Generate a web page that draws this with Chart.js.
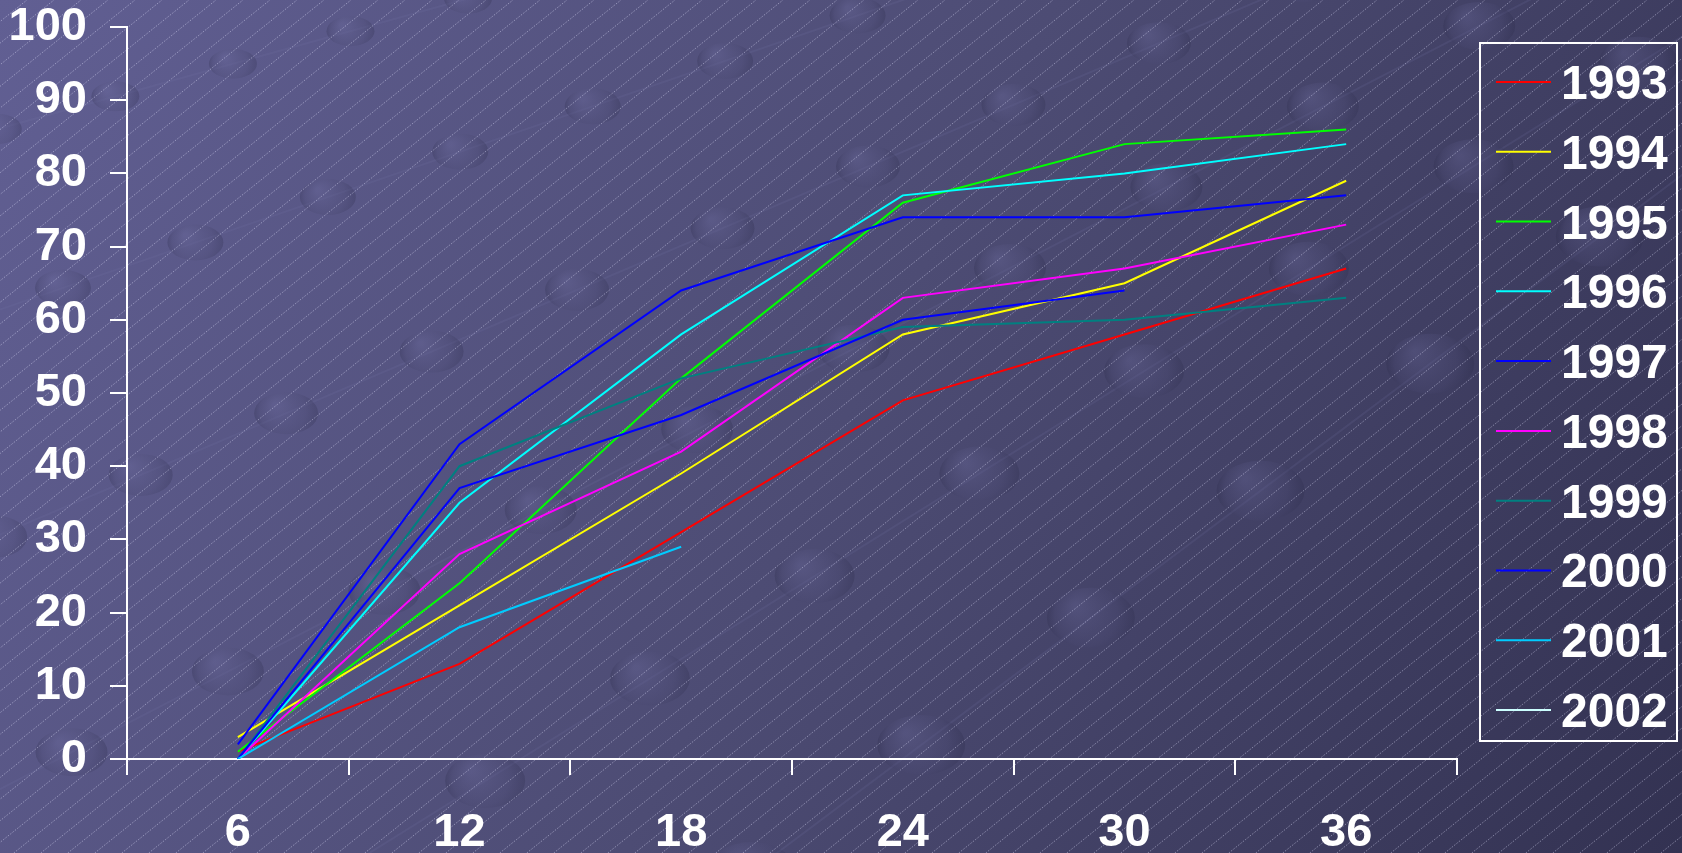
<!DOCTYPE html>
<html>
<head>
<meta charset="utf-8">
<script src="https://cdn.jsdelivr.net/npm/chart.js@4/dist/chart.umd.min.js"></script>
<style>
  html, body { margin: 0; padding: 0; overflow: hidden; background: #4b4a72; }
  #wrap { width: 1682px; height: 853px; position: relative; }
  canvas { display: block; }
</style>
</head>
<body>
<div id="wrap"><canvas id="chart" width="1682" height="853"></canvas></div>
<script>
// Months since start (category axis)
const months = ['6', '12', '18', '24', '30', '36'];

// Cumulative percentage per start year
const y1993 = [1, 13, 31, 49, 58, 67];
const y1994 = [3, 21, 39, 58, 65, 79];
const y1995 = [1, 24, 52, 76, 84, 86];
const y1996 = [0, 35, 58, 77, 80, 84];
const y1997 = [2, 43, 64, 74, 74, 77];
const y1998 = [0, 28, 42, 63, 67, 73];
const y1999 = [0, 40, 52, 59, 60, 63];
const y2000 = [0, 37, 47, 60, 64];
const y2001 = [0, 18, 29];
const y2002 = [0];

const yearLabels = ['1993', '1994', '1995', '1996', '1997', '1998', '1999', '2000', '2001', '2002'];
const yearSeries = [y1993, y1994, y1995, y1996, y1997, y1998, y1999, y2000, y2001, y2002];
const yearColors = ['#ff0000', '#ffff00', '#00ff00', '#00ffff', '#0000ff',
                    '#ff00ff', '#008080', '#0000ff', '#00ccff', '#ccffff'];

// Value axis range
const yMin = 0, yMax = 100, yStep = 10;

const FONT = "'Liberation Sans', Arial, Helvetica, sans-serif";

// Slide-style backdrop: gradient, perspective pegs and fine diagonal hatching
const backdrop = {
  id: 'backdrop',
  beforeDraw(chart) {
    const ctx = chart.ctx;
    const W = chart.width, H = chart.height;
    ctx.save();
    const g = ctx.createLinearGradient(0, 0, W, H);
    g.addColorStop(0, '#615f93');
    g.addColorStop(0.5, '#4d4c74');
    g.addColorStop(1, '#333252');
    ctx.fillStyle = g;
    ctx.fillRect(0, 0, W, H);

    // rows of pegs receding toward a far vanishing point
    const vp = { x: 2770, y: -640 };
    const rowStarts = [145, 330, 560, 820, 1120, 1480];
    rowStarts.forEach((y0, r) => {
      const sx = -60, sy = y0;
      const dx = vp.x - sx, dy = vp.y - sy;
      const len = Math.hypot(dx, dy);
      const ux = dx / len, uy = dy / len;
      ctx.strokeStyle = 'rgba(120,119,170,0.16)';
      ctx.lineWidth = 2;
      ctx.beginPath();
      ctx.moveTo(sx, sy);
      ctx.lineTo(vp.x, vp.y);
      ctx.stroke();
      const step = 122 + r * 18;
      const phase = (r % 2) * step * 0.5 + 60;
      for (let d = phase; d < len; d += step) {
        const cx = sx + ux * d, cy = sy + uy * d;
        if (cx < -60 || cx > W + 60 || cy < -40 || cy > H + 40) continue;
        const rx = 24 + r * 4, ry = 15 + r * 3;
        const eg = ctx.createRadialGradient(cx - rx * 0.35, cy - ry * 0.4, 2, cx, cy, rx);
        eg.addColorStop(0, 'rgba(110,109,160,0.32)');
        eg.addColorStop(0.7, 'rgba(75,74,115,0.28)');
        eg.addColorStop(1, 'rgba(40,40,70,0.26)');
        ctx.fillStyle = eg;
        ctx.beginPath();
        ctx.ellipse(cx, cy, rx, ry, 0, 0, Math.PI * 2);
        ctx.fill();
      }
    });

    // fine dotted diagonal hatching
    ctx.strokeStyle = 'rgba(225,225,250,0.45)';
    ctx.lineWidth = 1;
    ctx.setLineDash([1.5, 1.5]);
    const slope = 0.8;
    const run = H / slope;
    for (let x0 = -run; x0 < W + 20; x0 += 27) {
      ctx.beginPath();
      ctx.moveTo(x0, H);
      ctx.lineTo(x0 + run, 0);
      ctx.stroke();
    }
    ctx.restore();
  }
};

// Boxed legend to the right of the plot
const boxedLegend = {
  id: 'boxedLegend',
  afterDraw(chart) {
    const ctx = chart.ctx;
    const area = chart.chartArea;
    const left = area.right + 23, top = 43, right = chart.width - 5, bottom = 741;
    ctx.save();
    ctx.strokeStyle = '#ffffff';
    ctx.lineWidth = 2;
    ctx.strokeRect(left, top, right - left, bottom - top);
    const rowGap = (bottom - top - 70) / (chart.data.datasets.length - 1);
    ctx.font = 'bold 48px ' + FONT;
    ctx.textAlign = 'left';
    ctx.textBaseline = 'alphabetic';
    chart.data.datasets.forEach((ds, i) => {
      const y = top + 39 + i * rowGap;
      ctx.strokeStyle = ds.borderColor;
      ctx.lineWidth = 2;
      ctx.beginPath();
      ctx.moveTo(left + 16, y);
      ctx.lineTo(left + 71, y);
      ctx.stroke();
      ctx.fillStyle = '#ffffff';
      ctx.fillText(ds.label, left + 81, y + 17);
    });
    ctx.restore();
  }
};

const datasets = yearLabels.map((label, i) => ({
  label,
  data: yearSeries[i],
  borderColor: yearColors[i],
  backgroundColor: yearColors[i],
  borderWidth: 2,
  pointRadius: 0,
  tension: 0,
  fill: false,
  order: yearLabels.length - i
}));

const tickFont = { family: FONT, size: 47, weight: 'bold', lineHeight: 1.15 };

new Chart(document.getElementById('chart'), {
  type: 'line',
  data: { labels: months, datasets },
  plugins: [backdrop, boxedLegend],
  options: {
    responsive: false,
    devicePixelRatio: 1,
    animation: false,
    layout: { padding: { left: 0, right: 225, top: 27, bottom: 0 } },
    plugins: {
      legend: { display: false },
      tooltip: { enabled: false },
      title: { display: false }
    },
    scales: {
      x: {
        type: 'category',
        offset: true,
        grid: {
          offset: true,
          drawOnChartArea: false,
          color: '#ffffff',
          lineWidth: 2,
          tickLength: 16,
          tickWidth: 2
        },
        border: { color: '#ffffff', width: 2 },
        ticks: { color: '#ffffff', font: tickFont, padding: 31, maxRotation: 0, autoSkip: false },
        afterFit(scale) { scale.height = 94; }
      },
      y: {
        min: yMin,
        max: yMax,
        grid: {
          drawOnChartArea: false,
          color: '#ffffff',
          lineWidth: 2,
          tickLength: 17,
          tickWidth: 2
        },
        border: { color: '#ffffff', width: 2 },
        ticks: { stepSize: yStep, color: '#ffffff', font: tickFont, padding: 23 },
        afterFit(scale) {
          scale.width = 127;
          scale.paddingTop = 0;
          scale.paddingBottom = 0;
        }
      }
    }
  }
});
</script>
</body>
</html>
